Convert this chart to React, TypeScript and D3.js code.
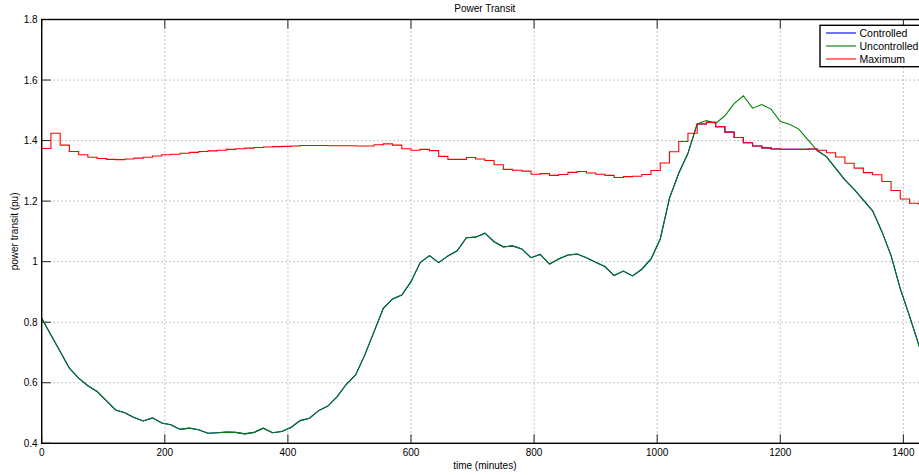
import React from "react";
import * as d3 from "d3";

// ---- data (15-minute samples, 0 .. 1440 minutes) ----
const STEP_MIN = 15;

const uncontrolled: number[] = [
  0.813, 0.758, 0.703, 0.648, 0.615, 0.590, 0.571, 0.541, 0.510, 0.501,
  0.485, 0.474, 0.484, 0.467, 0.461, 0.446, 0.450, 0.445, 0.433, 0.435,
  0.437, 0.436, 0.431, 0.436, 0.450, 0.435, 0.439, 0.452, 0.475, 0.483,
  0.508, 0.523, 0.554, 0.595, 0.626, 0.692, 0.769, 0.846, 0.877, 0.890,
  0.934, 0.997, 1.020, 0.997, 1.019, 1.036, 1.079, 1.081, 1.094, 1.066,
  1.049, 1.052, 1.042, 1.013, 1.024, 0.992, 1.009, 1.022, 1.025, 1.013,
  0.998, 0.984, 0.954, 0.969, 0.953, 0.975, 1.009, 1.075, 1.210, 1.292,
  1.358, 1.455, 1.466, 1.457, 1.482, 1.522, 1.548, 1.507, 1.519, 1.504,
  1.463, 1.454, 1.438, 1.402, 1.367, 1.347, 1.308, 1.270, 1.239, 1.203,
  1.168, 1.100, 1.020, 0.910, 0.820, 0.725, 0.640,
];

const controlled: number[] = [
  0.813, 0.758, 0.703, 0.648, 0.615, 0.590, 0.571, 0.541, 0.510, 0.501,
  0.485, 0.474, 0.484, 0.467, 0.461, 0.446, 0.450, 0.445, 0.433, 0.435,
  0.437, 0.436, 0.431, 0.436, 0.450, 0.435, 0.439, 0.452, 0.475, 0.483,
  0.508, 0.523, 0.554, 0.595, 0.626, 0.692, 0.769, 0.846, 0.877, 0.890,
  0.934, 0.997, 1.020, 0.997, 1.019, 1.036, 1.079, 1.081, 1.094, 1.066,
  1.049, 1.052, 1.042, 1.013, 1.024, 0.992, 1.009, 1.022, 1.025, 1.013,
  0.998, 0.984, 0.954, 0.969, 0.953, 0.975, 1.009, 1.075, 1.210, 1.292,
  1.358, 1.455, 1.460, 1.446, 1.428, 1.410, 1.393, 1.382, 1.376, 1.372,
  1.371, 1.371, 1.371, 1.372, 1.367, 1.347, 1.308, 1.270, 1.239, 1.203,
  1.168, 1.100, 1.020, 0.910, 0.820, 0.725, 0.640,
];

const maximum: number[] = [
  1.374, 1.424, 1.385, 1.364, 1.353, 1.345, 1.341, 1.338, 1.337, 1.339,
  1.342, 1.345, 1.349, 1.353, 1.355, 1.358, 1.361, 1.364, 1.366, 1.368,
  1.371, 1.373, 1.375, 1.377, 1.379, 1.380, 1.381, 1.382, 1.384, 1.384,
  1.384, 1.383, 1.383, 1.383, 1.382, 1.382, 1.386, 1.389, 1.385, 1.373,
  1.368, 1.371, 1.367, 1.348, 1.338, 1.338, 1.344, 1.339, 1.334, 1.320,
  1.305, 1.302, 1.299, 1.289, 1.291, 1.285, 1.288, 1.295, 1.298, 1.293,
  1.289, 1.285, 1.278, 1.281, 1.282, 1.288, 1.301, 1.326, 1.363, 1.397,
  1.424, 1.455, 1.460, 1.446, 1.428, 1.410, 1.393, 1.382, 1.376, 1.372,
  1.371, 1.371, 1.371, 1.372, 1.368, 1.360, 1.346, 1.325, 1.309, 1.294,
  1.287, 1.265, 1.235, 1.207, 1.193, 1.190, 1.190,
];

const xTicks = [0, 200, 400, 600, 800, 1000, 1200, 1400];
const yTicks = [0.4, 0.6, 0.8, 1.0, 1.2, 1.4, 1.6, 1.8];

const seriesInfo = [
  { name: "Controlled", color: "#0000ff" },
  { name: "Uncontrolled", color: "#008000" },
  { name: "Maximum", color: "#ff0000" },
];

const W = 919;
const H = 475;
const plot = { left: 41.7, right: 928, top: 19.5, bottom: 443.3 };
const FONT = "'Liberation Sans', Arial, Helvetica, sans-serif";

export default function App() {
  const x = d3.scaleLinear().domain([0, 1440]).range([plot.left, plot.right]);
  const y = d3.scaleLinear().domain([0.4, 1.8]).range([plot.bottom, plot.top]);

  const toPts = (arr: number[]) => arr.map((v, i) => [i * STEP_MIN, v] as [number, number]);
  const line = d3
    .line<[number, number]>()
    .x((d) => x(d[0]))
    .y((d) => y(d[1]));
  const stepLine = d3
    .line<[number, number]>()
    .x((d) => x(d[0]))
    .y((d) => y(d[1]))
    .curve(d3.curveStepAfter);

  // controlled: where it is capped by the maximum it follows the maximum's steps
  const cPts = toPts(controlled);
  const capped = controlled.map((v, i) => v < uncontrolled[i] - 1e-9);
  const firstCap = capped.indexOf(true);
  const lastCap = capped.lastIndexOf(true);
  const controlledPath =
    firstCap < 0
      ? line(cPts) || ""
      : (line(cPts.slice(0, firstCap)) || "") +
        (stepLine(cPts.slice(firstCap - 1, lastCap + 2)) || "") +
        (line(cPts.slice(lastCap + 1)) || "");

  const fmt = (v: number) => String(Number(v.toFixed(1)));
  const tickLen = 9;
  const gridStyle = { stroke: "#8a8a8a", strokeWidth: 1, strokeDasharray: "1,3" };

  return (
    <svg
      width={W}
      height={H}
      style={{ position: "absolute", left: 0, top: 0, background: "#fff" }}
      fontFamily={FONT}
    >
      <defs>
        <clipPath id="plotClip">
          <rect x={plot.left} y={plot.top} width={plot.right - plot.left} height={plot.bottom - plot.top} />
        </clipPath>
      </defs>
      <rect x={0} y={0} width={W} height={H} fill="#fff" />

      {/* grid */}
      {xTicks.slice(1).map((t) => (
        <line key={"gx" + t} x1={x(t)} x2={x(t)} y1={plot.top} y2={plot.bottom} {...gridStyle} />
      ))}
      {yTicks.slice(1, -1).map((t) => (
        <line key={"gy" + t} x1={plot.left} x2={plot.right} y1={y(t)} y2={y(t)} {...gridStyle} />
      ))}

      {/* ticks */}
      {xTicks.map((t) => (
        <g key={"tx" + t} stroke="#222" strokeWidth={1}>
          <line x1={x(t)} x2={x(t)} y1={plot.bottom} y2={plot.bottom - tickLen} />
          <line x1={x(t)} x2={x(t)} y1={plot.top} y2={plot.top + tickLen} />
        </g>
      ))}
      {yTicks.map((t) => (
        <g key={"ty" + t} stroke="#222" strokeWidth={1}>
          <line x1={plot.left} x2={plot.left + tickLen} y1={y(t)} y2={y(t)} />
          <line x1={plot.right} x2={plot.right - tickLen} y1={y(t)} y2={y(t)} />
        </g>
      ))}

      {/* series */}
      <g clipPath="url(#plotClip)" fill="none" strokeWidth={1.1}>
        <path d={controlledPath} stroke={seriesInfo[0].color} />
        <path d={line(toPts(uncontrolled)) || ""} stroke={seriesInfo[1].color} />
        <path d={stepLine(toPts(maximum)) || ""} stroke={seriesInfo[2].color} />
      </g>

      {/* axes box */}
      <rect
        x={plot.left}
        y={plot.top}
        width={plot.right - plot.left}
        height={plot.bottom - plot.top}
        fill="none"
        stroke="#000"
        strokeWidth={1.4}
      />

      {/* tick labels */}
      {xTicks.map((t) => (
        <text key={"lx" + t} x={x(t)} y={456} fontSize={10} textAnchor="middle" fill="#000">
          {t}
        </text>
      ))}
      {yTicks.map((t) => (
        <text key={"ly" + t} x={plot.left - 4} y={y(t) + 3.5} fontSize={10} textAnchor="end" fill="#000">
          {fmt(t)}
        </text>
      ))}

      {/* title and labels */}
      <text x={(plot.left + plot.right) / 2} y={12} fontSize={10} textAnchor="middle" fill="#000">
        Power Transit
      </text>
      <text x={(plot.left + plot.right) / 2} y={469} fontSize={10} textAnchor="middle" fill="#000">
        time (minutes)
      </text>
      <text
        transform={`translate(18, ${(plot.top + plot.bottom) / 2}) rotate(-90)`}
        fontSize={10}
        textAnchor="middle"
        fill="#000"
      >
        power transit (pu)
      </text>

      {/* legend */}
      <g>
        <rect x={820} y={25.3} width={106} height={41.4} fill="#fff" stroke="#000" strokeWidth={1.4} />
        {seriesInfo.map((s, i) => (
          <g key={s.name}>
            <line x1={826} x2={856} y1={33 + i * 13} y2={33 + i * 13} stroke={s.color} strokeWidth={1.1} />
            <text x={859.5} y={36.8 + i * 13} fontSize={10.5} fill="#000">
              {s.name}
            </text>
          </g>
        ))}
      </g>
    </svg>
  );
}
